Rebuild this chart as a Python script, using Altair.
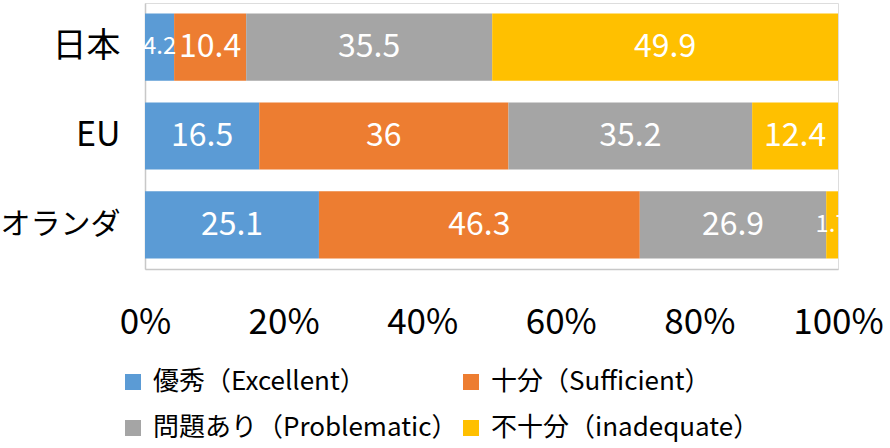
import altair as alt
import pandas as pd

countries = ["日本", "EU", "オランダ"]
categories = ["優秀（Excellent）", "十分（Sufficient）", "問題あり（Problematic）", "不十分（inadequate）"]
colors = ["#5B9BD5", "#ED7D31", "#A5A5A5", "#FFC000"]

japan = [4.2, 10.4, 35.5, 49.9]
eu = [16.5, 36, 35.2, 12.4]
netherlands = [25.1, 46.3, 26.9, 1.7]

rows = []
for country, vals in zip(countries, [japan, eu, netherlands]):
    for i, (cat, v) in enumerate(zip(categories, vals)):
        rows.append({"country": country, "category": cat, "order": i, "value": v})
df = pd.DataFrame(rows)

FONT = "Noto Sans CJK JP"

base = alt.Chart(df).transform_stack(
    stack="value",
    groupby=["country"],
    as_=["v0", "v1"],
    offset="normalize",
    sort=[alt.SortField("order", order="ascending")],
).transform_calculate(mid="(datum.v0 + datum.v1) / 2")

y_enc = alt.Y(
    "country:N",
    sort=countries,
    title=None,
    scale=alt.Scale(paddingInner=0.244, paddingOuter=0.118),
    axis=alt.Axis(
        labelFont=FONT,
        # the katakana name is long, so it gets a slightly smaller size
        labelFontSize={"condition": {"test": "datum.value == 'オランダ'", "value": 30}, "value": 34},
        labelColor="#000000",
        labelPadding=25,
        ticks=False,
        domainColor="#C8C8C8",
        domainWidth=1.5,
    ),
)

bars = base.mark_bar().encode(
    x=alt.X(
        "v0:Q",
        scale=alt.Scale(domain=[0, 1], nice=False),
        title=None,
        axis=alt.Axis(
            format="%",
            values=[0, 0.2, 0.4, 0.6, 0.8, 1.0],
            labelFont=FONT,
            labelFontSize=35,
            labelColor="#000000",
            labelPadding=36,
            ticks=False,
            grid=False,
            domainColor="#C8C8C8",
            domainWidth=1.5,
            labelFlush=False,
        ),
    ),
    x2="v1:Q",
    y=y_enc,
    color=alt.Color(
        "category:N",
        sort=categories,
        scale=alt.Scale(domain=categories, range=colors),
        legend=alt.Legend(
            title=None,
            orient="none",
            legendX=-25,
            legendY=366,
            direction="horizontal",
            columns=2,
            columnPadding=-6,
            rowPadding=20,
            padding=0,
            symbolType="square",
            symbolSize=256,
            symbolStrokeWidth=0,
            symbolOffset=0,
            labelOffset=7,
            labelFont=FONT,
            labelFontSize=26,
            labelColor="#000000",
            labelLimit=400,
        ),
    ),
    order=alt.Order("order:Q"),
)

labels = base.mark_text(color="white", font=FONT, baseline="middle").encode(
    x=alt.X("mid:Q"),
    y=alt.Y("country:N", sort=countries),
    text=alt.Text("value:Q"),
    size=alt.condition(alt.datum.value < 5, alt.value(24), alt.value(32)),
)

chart = (
    alt.layer(bars, labels)
    .properties(width=693, height=266, padding={"left": 0, "top": 3, "right": 0, "bottom": 6})
    .configure_view(stroke=None)
    .configure(background="white")
)

chart.save("out.html", embed_options={"renderer": "svg", "actions": False})
